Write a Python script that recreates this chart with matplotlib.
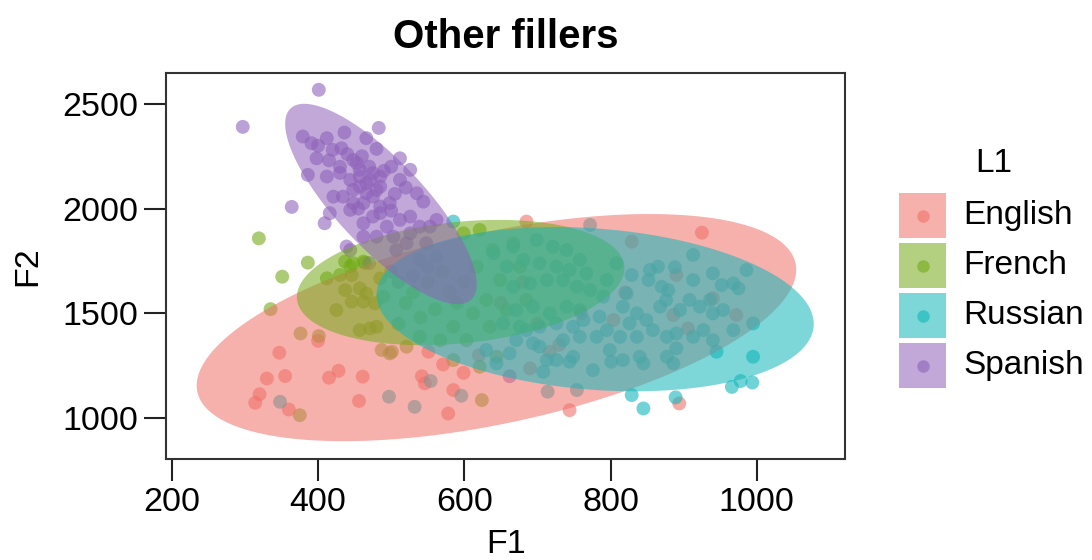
import numpy as np
import matplotlib
matplotlib.use("Agg")
import matplotlib.pyplot as plt
from matplotlib.patches import Rectangle
from matplotlib.lines import Line2D

plt.rcParams['font.family'] = ['Liberation Sans', 'DejaVu Sans']

groups = ["English", "French", "Russian", "Spanish"]
colors = ["#F0726A", "#74AA18", "#12B6BA", "#8E62BA"]

english_f1 = [347, 330, 355, 320, 314, 360, 415, 428, 461, 456, 400, 542, 546, 571, 585, 599, 578, 551,
              685, 925, 744, 894, 829, 890, 940, 886, 804, 906, 972, 690, 717, 650, 700, 760, 820, 730,
              680, 620]
english_f2 = [1312, 1189, 1201, 1114, 1073, 1041, 1193, 1226, 1198, 1082, 1369, 1200, 1166, 1256, 1134, 1216, 1022, 1317,
              1938, 1885, 1038, 1070, 1842, 1683, 1572, 1492, 1468, 1428, 1492, 1237, 1317, 1550, 1450, 1500, 1600, 1350,
              1650, 1300]

french_f1 = [319, 386, 351, 335, 376, 401, 437, 448, 464, 412, 430, 446, 437, 457, 466, 425, 446, 462, 478,
             457, 471, 480, 487, 501, 624, 375, 485, 444, 462, 489, 498,
             599, 621, 617, 639, 667, 649, 676, 630, 612, 658, 685, 635, 603, 585, 567, 539, 521, 644, 621, 585,
             530, 550, 570, 520, 560, 580, 540, 600, 590, 510]
french_f2 = [1858, 1742, 1675, 1520, 1404, 1392, 1747, 1739, 1742, 1667, 1683, 1683, 1611, 1619, 1595, 1516, 1556, 1556, 1548,
             1420, 1428, 1436, 1325, 1317, 1086, 1014, 1667, 1723, 1747, 1580, 1309,
             1882, 1898, 1723, 1802, 1834, 1659, 1723, 1564, 1500, 1516, 1564, 1436, 1372, 1436, 1372, 1388, 1341, 1293, 1245, 1277,
             1600, 1650, 1700, 1550, 1520, 1600, 1480, 1650, 1550, 1450]

russian_f1 = [854, 865, 888, 829, 852, 870, 879, 822, 817, 836, 849, 868, 876, 895, 908, 922, 936, 940, 954, 952,
              968, 975, 913, 940, 858, 877, 890, 913, 927, 940, 968, 995, 890, 877, 886, 840, 845, 817, 801, 799,
              813, 836, 826, 795, 781, 758, 763, 785, 790, 776, 744, 735, 749, 713, 703, 694, 708, 726, 671, 644,
              630, 662, 685,
              829, 845, 889, 945, 995, 966, 978, 994, 585,
              348, 497, 532, 554, 596, 772, 714, 754, 913, 986,
              667, 699, 721, 740, 758, 767, 744, 726, 703, 681, 658, 640, 735, 754, 772, 795, 808, 671, 694, 717,
              740, 758, 653, 676, 703, 726, 749, 713, 690, 667]
russian_f2 = [1707, 1723, 1720, 1683, 1659, 1627, 1611, 1595, 1532, 1500, 1468, 1532, 1564, 1516, 1564, 1532, 1564, 1500, 1516, 1635,
              1643, 1619, 1659, 1691, 1420, 1388, 1404, 1388, 1420, 1372, 1420, 1452, 1333, 1293, 1261, 1293, 1261, 1277, 1269, 1325,
              1388, 1388, 1452, 1420, 1388, 1388, 1468, 1484, 1580, 1229, 1269, 1372, 1293, 1277, 1341, 1357, 1221, 1277, 1372, 1261,
              1325, 1309, 1420,
              1110, 1046, 1099, 1317, 1293, 1149, 1177, 1170, 1938,
              1078, 1102, 1054, 1177, 1107, 1922, 1126, 1134, 1779, 1707,
              1818, 1850, 1818, 1802, 1755, 1691, 1707, 1723, 1739, 1755, 1723, 1786, 1659, 1627, 1611, 1659, 1739, 1516, 1532, 1500,
              1532, 1516, 1452, 1436, 1436, 1452, 1436, 1659, 1643, 1627]

spanish_f1 = [401, 297, 364, 483, 379, 391, 412, 436, 466, 480, 432, 398, 386, 412, 430, 448, 457, 471, 485, 512,
              526, 512, 535, 544, 421, 434, 448, 462, 475, 485, 498, 416, 409, 444, 462, 475, 494, 512, 526, 539,
              562, 553, 503, 480, 521, 444, 453, 457, 466, 444, 475, 485, 457, 466, 480, 448, 485, 462, 526, 548,
              439, 507, 562, 539, 440, 460, 420, 500, 430, 470, 490, 455, 500, 520, 505, 400, 415,
              500, 530, 550, 510, 470, 662]
spanish_f2 = [2567, 2390, 2008, 2385, 2344, 2312, 2336, 2363, 2336, 2285, 2288, 2240, 2161, 2153, 2200, 2232, 2185, 2137, 2105, 2240,
              2185, 2137, 2073, 2033, 2057, 2057, 2026, 2026, 2057, 2010, 2026, 1978, 1930, 1994, 1930, 1962, 1914, 1946, 1962, 1914,
              1946, 1914, 1866, 1866, 1835, 1802, 2217, 2153, 2121, 2137, 2169, 2153, 2105, 2074, 2089, 2089, 1978, 1866, 1882, 1835,
              1819, 1802, 1770, 1755, 2260, 2250, 2280, 2200, 2170, 2200, 2180, 2000, 1990, 2100, 2070, 2300, 2230,
              1700, 1680, 1720, 1650, 1740, 1200]

# ellipse summaries: centre, half-extent in F1 / F2, correlation
ell_cx = [644, 595, 779, 486]
ell_cy = [1432, 1647, 1520, 2022]
ell_ax = [410, 224, 299, 131]
ell_by = [542, 299, 392, 478]
ell_r = [0.51, 0.23, -0.18, -0.80]

xs = [english_f1, french_f1, russian_f1, spanish_f1]
ys = [english_f2, french_f2, russian_f2, spanish_f2]

fig = plt.figure(figsize=(10.92, 5.6), dpi=100)
ax = fig.add_axes([0.152, 0.180, 0.622, 0.690])

for x, y, c in zip(xs, ys, colors):
    ax.scatter(x, y, s=100, color=c, alpha=0.6, edgecolors='none', zorder=2)

t = np.linspace(0, 2 * np.pi, 300)
for cx, cy, a, b, r, c in zip(ell_cx, ell_cy, ell_ax, ell_by, ell_r, colors):
    ex = cx + a * np.cos(t)
    ey = cy + b * (r * np.cos(t) + np.sqrt(1 - r ** 2) * np.sin(t))
    ax.fill(ex, ey, color=c, alpha=0.55, lw=0, zorder=3)

FS = 24.5
ax.set_xlim(192, 1121)
ax.set_ylim(804, 2648)
ax.set_xticks([200, 400, 600, 800, 1000])
ax.set_yticks([1000, 1500, 2000, 2500])
ax.tick_params(axis='both', labelsize=FS, length=16, width=1.5, color='#222222', pad=4)
for sp in ax.spines.values():
    sp.set_linewidth(1.5)
    sp.set_color('#333333')
ax.set_xlabel("F1", fontsize=FS, labelpad=8)
ax.set_ylabel("F2", fontsize=FS, labelpad=14)
ax.set_title("Other fillers", fontsize=29, fontweight='bold', pad=18)

# legend drawn by hand (ggplot-style square keys with a dot)
key_x, key_w, key_h = 0.8233, 0.0430, 0.0804
key_top, key_step = 1 - 193 / 560, 50 / 560
for i, (g, c) in enumerate(zip(groups, colors)):
    top = key_top - i * key_step
    fig.add_artist(Rectangle((key_x, top - key_h), key_w, key_h, transform=fig.transFigure,
                             facecolor=c, alpha=0.55, edgecolor='none'))
    fig.add_artist(Line2D([key_x + key_w / 2], [top - key_h / 2], transform=fig.transFigure,
                          marker='o', markersize=9, color=c, alpha=0.6, markeredgewidth=0, linestyle='none'))
    fig.text(0.8825, top - key_h / 2, g, fontsize=24, ha='left', va='center')
fig.text(0.893, 1 - 163 / 560, "L1", fontsize=24, ha='left', va='center')
fig.savefig("out.png", dpi=100)
